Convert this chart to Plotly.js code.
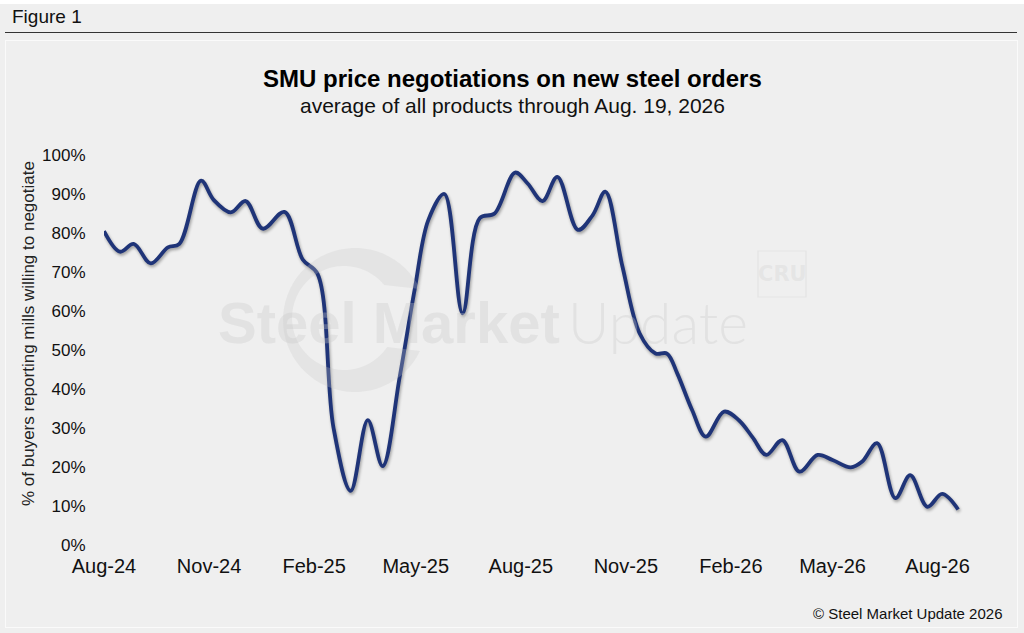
<!DOCTYPE html>
<html>
<head>
<meta charset="utf-8">
<script src="https://cdn.plot.ly/plotly-3.0.1.min.js"></script>
<style>
  body { margin: 0; background: #efefef; font-family: "Liberation Sans", Arial, sans-serif; }
  #page { position: relative; width: 1024px; height: 633px; overflow: hidden; }
  #topbar { position: absolute; left: 0; top: 0; width: 1024px; height: 4px; background: #fff; }
  #fig { position: absolute; left: 12px; top: 6px; font-size: 19px; color: #111; }
  #rule { position: absolute; left: 5px; top: 32px; width: 1012px; height: 0; border-top: 1.5px solid #333; }
  #panel { position: absolute; left: 5px; top: 40px; width: 1011px; height: 586px; border: 1.5px solid #fafafa; }
  #plot1 { position: absolute; left: 0; top: 0; width: 1024px; height: 633px; }
  #plot1 .js-line { filter: drop-shadow(1.5px 2px 1.5px rgba(0,0,0,0.35)); }
</style>
</head>
<body>
<div id="page">
  <div id="topbar"></div>
  <div id="fig">Figure 1</div>
  <div id="rule"></div>
  <div id="panel"></div>
  <div id="plot1"></div>
</div>
<script>
///////////////////////////////////////////////  data  /////////////////////////////////////////////////////////
var surveyDates = [
  '2024-08-01', '2024-08-15', '2024-08-27', '2024-09-11', '2024-09-26', '2024-10-06',
  '2024-10-25', '2024-11-05', '2024-11-20', '2024-12-03', '2024-12-18', '2025-01-06',
  '2025-01-22', '2025-02-04', '2025-02-18', '2025-03-05', '2025-03-20', '2025-04-02',
  '2025-04-17', '2025-04-30', '2025-05-12', '2025-05-26', '2025-06-11', '2025-06-26',
  '2025-07-09', '2025-07-27', '2025-08-07', '2025-08-20', '2025-09-02', '2025-09-20',
  '2025-10-03', '2025-10-14', '2025-10-29', '2025-11-13', '2025-11-27', '2025-12-07',
  '2025-12-16', '2025-12-29', '2026-01-10', '2026-01-26', '2026-02-08', '2026-02-20',
  '2026-03-04', '2026-03-18', '2026-04-02', '2026-04-18', '2026-05-01', '2026-05-17',
  '2026-05-27', '2026-06-09', '2026-06-25', '2026-07-08', '2026-07-23', '2026-08-05',
  '2026-08-19'
];
var pctNegotiating = [
  80.5, 75.2, 77.2, 72.2, 76.3, 77.2,
  93.4, 88.5, 85.3, 88.2, 81.1, 85.4,
  73.2, 69.5, 30.0, 13.9, 32.0, 20.2,
  43.2, 65.4, 83.3, 90.0, 59.4, 83.8,
  85.0, 95.5, 92.7, 88.2, 94.4, 80.8,
  84.6, 90.6, 71.4, 54.3, 49.1, 49.1,
  44.0, 34.6, 27.8, 34.2, 32.0, 27.6,
  23.1, 26.9, 18.8, 23.1, 21.8, 19.9,
  21.4, 26.1, 12.0, 17.9, 9.8, 13.1,
  9.1
];
var yTickVals = [0, 10, 20, 30, 40, 50, 60, 70, 80, 90, 100];
var yTickLabels = ['0%', '10%', '20%', '30%', '40%', '50%', '60%', '70%', '80%', '90%', '100%'];

var titleText = 'SMU price negotiations on new steel orders';
var subtitleText = 'average of all products through Aug. 19, 2026';
var yTitleText = '% of buyers reporting mills willing to negotiate';
var footerText = '\u00a9 Steel Market Update 2026';

/////////////////////////////////////////////  geometry helpers  /////////////////////////////////////////////////////////
// plot area in page pixels
var plotL = 104, plotR = 973, plotT = 155, plotB = 545;
function px(X) { return (X - plotL) / (plotR - plotL); }
function py(Y) { return (plotB - Y) / (plotB - plotT); }

// crescent "C" of the watermark logo, open to the right
function crescentPath(cx, cy, R, icx, icy, r, cut) {
  var pts = [];
  var a0 = Math.asin(cut / R), a1 = Math.asin((cut + cy - icy) / r), a2 = Math.asin((cut - cy + icy) / r);
  var n = 60, i, t;
  for (i = 0; i <= n; i++) {
    t = a0 + (2 * Math.PI - 2 * a0) * i / n;
    pts.push([cx + R * Math.cos(t), cy - R * Math.sin(t)]);
  }
  for (i = n; i >= 0; i--) {
    t = a1 + (2 * Math.PI - a2 - a1) * i / n;
    pts.push([icx + r * Math.cos(t), icy - r * Math.sin(t)]);
  }
  return 'M' + pts.map(p => px(p[0]).toFixed(4) + ',' + py(p[1]).toFixed(4)).join(' L') + ' Z';
}

/////////////////////////////////////////////  plot  /////////////////////////////////////////////////////////
var wmColor = 'rgba(200,200,200,0.32)';
var logoColor = 'rgba(200,200,200,0.27)';
var fontMain = '"Liberation Sans", Arial, sans-serif';

var trace = {
  x: surveyDates,
  y: pctNegotiating,
  type: 'scatter',
  mode: 'lines',
  line: { color: '#1f3478', width: 3.8, shape: 'spline', smoothing: 1 },
  hoverinfo: 'skip'
};

var layout = {
  width: 1024,
  height: 633,
  margin: { l: plotL, r: 1024 - plotR, t: plotT, b: 633 - plotB },
  paper_bgcolor: 'rgba(0,0,0,0)',
  plot_bgcolor: 'rgba(0,0,0,0)',
  showlegend: false,
  font: { family: fontMain, color: '#111' },
  xaxis: {
    type: 'date',
    range: ['2024-08-01', '2026-09-01'],
    tick0: '2024-08-01',
    dtick: 'M3',
    tickformat: '%b-%y',
    ticks: 'outside',
    ticklen: 3,
    tickcolor: 'rgba(0,0,0,0)',
    showgrid: false,
    zeroline: false,
    showline: false,
    tickfont: { size: 20, color: '#111' }
  },
  yaxis: {
    range: [0, 100],
    tickmode: 'array',
    tickvals: yTickVals,
    ticktext: yTickLabels,
    ticks: 'outside',
    ticklen: 14,
    tickcolor: 'rgba(0,0,0,0)',
    showgrid: false,
    zeroline: false,
    showline: false,
    tickfont: { size: 17, color: '#111' }
  },
  shapes: [
    {
      type: 'path', xref: 'paper', yref: 'paper', layer: 'above',
      path: crescentPath(355, 320, 72, 344, 318, 52, 31),
      fillcolor: logoColor, line: { width: 0 }
    },
    {
      type: 'rect', xref: 'paper', yref: 'paper', layer: 'above',
      x0: px(758), x1: px(806), y0: py(297), y1: py(251),
      fillcolor: 'rgba(0,0,0,0)', line: { color: logoColor, width: 1.2 }
    }
  ],
  annotations: [
    { text: '<b>' + titleText + '</b>', xref: 'paper', yref: 'paper', x: px(512), y: py(78),
      xanchor: 'center', yanchor: 'middle', showarrow: false, font: { size: 24, color: '#000' } },
    { text: subtitleText, xref: 'paper', yref: 'paper', x: px(512), y: py(105),
      xanchor: 'center', yanchor: 'middle', showarrow: false, font: { size: 21, color: '#111' } },
    { text: yTitleText, xref: 'paper', yref: 'paper', x: px(28), y: py(334), textangle: -90,
      xanchor: 'center', yanchor: 'middle', showarrow: false, font: { size: 17, color: '#222' } },
    { text: footerText, xref: 'paper', yref: 'paper', x: px(1005), y: py(613),
      xanchor: 'right', yanchor: 'middle', showarrow: false, font: { size: 15, color: '#111' } },
    // watermark
    { text: '<b>Steel Market</b>', xref: 'paper', yref: 'paper', x: px(216), y: py(322),
      xanchor: 'left', yanchor: 'middle', showarrow: false, font: { size: 58, color: wmColor } },
    { text: 'Update', xref: 'paper', yref: 'paper', x: px(750), y: py(322),
      xanchor: 'right', yanchor: 'middle', showarrow: false,
      font: { family: 'Lato, Roboto, "Liberation Sans", sans-serif', weight: 300, size: 57, color: wmColor } },
    { text: '<b>CRU</b>', xref: 'paper', yref: 'paper', x: px(782), y: py(274),
      xanchor: 'center', yanchor: 'middle', showarrow: false,
      font: { family: '"DejaVu Sans", sans-serif', stretch: 'condensed', size: 21, color: logoColor } }
  ]
};

Plotly.newPlot('plot1', [trace], layout, { staticPlot: true });
</script>
</body>
</html>
